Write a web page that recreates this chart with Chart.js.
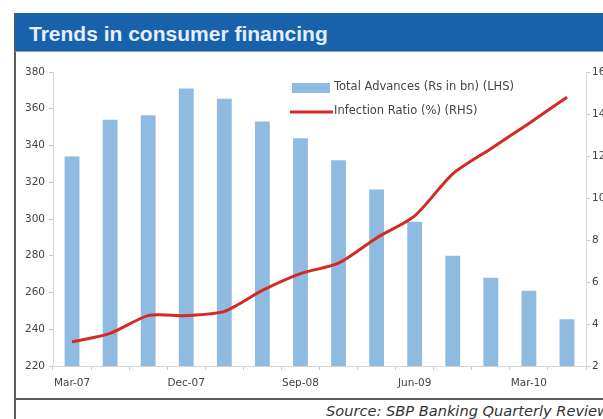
<!DOCTYPE html>
<html>
<head>
<meta charset="utf-8">
<title>Trends in consumer financing</title>
<script src="https://cdn.jsdelivr.net/npm/chart.js@4/dist/chart.umd.min.js"></script>
<style>
    html, body { margin: 0; padding: 0; background: #fff; }
    body { width: 603px; height: 419px; position: relative; overflow: hidden; font-family: "Liberation Sans", Arial, sans-serif; }
    #frame-left { position: absolute; left: 14px; top: 13px; width: 2px; height: 406px; background: #5a5a5a; }
    #title-bar { position: absolute; left: 15px; top: 13px; width: 588px; height: 38px; background: #1862ab; border-bottom: 1px solid #8a9bb0; }
    #title-bar span { position: absolute; left: 14px; top: 10px; line-height: 21px; color: #e4efff; font-weight: bold; font-size: 21px; white-space: nowrap; }
    #frame-bottom { position: absolute; left: 15px; top: 398px; width: 588px; height: 2px; background: #5a5a5a; }
    #source { position: absolute; left: 326px; top: 404px; line-height: 14px; font-family: "DejaVu Sans", sans-serif; font-size: 14.6px; font-style: italic; color: #333; white-space: nowrap; }
    #chart { position: absolute; left: 0; top: 0; }
</style>
</head>
<body>
<div id="frame-left"></div>
<div id="title-bar"><span>Trends in consumer financing</span></div>
<div id="frame-bottom"></div>
<div id="source">Source: SBP Banking Quarterly Review</div>
<canvas id="chart" width="603" height="419"></canvas>

<script>
const categories = ['Mar-07', 'Jun-07', 'Sep-07', 'Dec-07', 'Mar-08', 'Jun-08', 'Sep-08',
                    'Dec-08', 'Mar-09', 'Jun-09', 'Sep-09', 'Dec-09', 'Mar-10', 'Jun-10'];
const totalAdvances = [334, 354, 356.5, 371, 365.5, 353, 344, 332, 316, 298.5, 280, 268, 261, 245.5];
const infectionRatio = [3.15, 3.55, 4.4, 4.4, 4.6, 5.6, 6.4, 6.9, 8.1, 9.15, 11.15, 12.35, 13.55, 14.8];
const leftTicks = [220, 240, 260, 280, 300, 320, 340, 360, 380];
const rightTicks = [2, 4, 6, 8, 10, 12, 14, 16];

const barColor = '#8fbbe0';
const lineColor = '#d42a22';
const textColor = '#444';
const tickFont = { family: '"DejaVu Sans", sans-serif', size: 10.5 };

// legend sits inside the plot, so draw it by hand
const insideLegend = {
    id: 'insideLegend',
    afterDraw(chart) {
        const ctx = chart.ctx;
        ctx.save();
        ctx.font = '11.5px "DejaVu Sans", sans-serif';
        ctx.textBaseline = 'middle';
        chart.data.datasets.forEach((ds, i) => {
            const y = 88 + i * 24;
            if (ds.type === 'bar') {
                ctx.fillStyle = ds.backgroundColor;
                ctx.fillRect(292, y - 5, 38, 10);
            } else {
                ctx.strokeStyle = ds.borderColor;
                ctx.lineWidth = 3;
                ctx.beginPath();
                ctx.moveTo(290, y);
                ctx.lineTo(333, y);
                ctx.stroke();
            }
            ctx.fillStyle = textColor;
            ctx.fillText(ds.label, 334, y - 1);
        });
        ctx.restore();
    }
};

new Chart(document.getElementById('chart'), {
    data: {
        labels: categories,
        datasets: [{
            type: 'bar',
            label: 'Total Advances (Rs in bn) (LHS)',
            data: totalAdvances,
            backgroundColor: barColor,
            yAxisID: 'yLeft',
            barPercentage: 0.39,
            categoryPercentage: 1,
            order: 2
        }, {
            type: 'line',
            label: 'Infection Ratio (%) (RHS)',
            data: infectionRatio,
            borderColor: lineColor,
            borderWidth: 3,
            pointRadius: 0,
            tension: 0.25,
            yAxisID: 'yRight',
            order: 1
        }]
    },
    options: {
        responsive: false,
        animation: false,
        devicePixelRatio: 1,
        layout: { padding: { top: 72, left: 0, right: 0, bottom: 0 } },
        plugins: { legend: { display: false }, tooltip: { enabled: false } },
        scales: {
            x: {
                grid: { drawOnChartArea: false, tickLength: 4, color: '#c8c8c8', offset: true },
                border: { color: '#d4d4d4' },
                ticks: {
                    autoSkip: false,
                    maxRotation: 0,
                    padding: 7,
                    color: textColor,
                    font: tickFont,
                    callback: function (value, index) {
                        return index % 3 === 0 ? this.getLabelForValue(value) : '';
                    }
                },
                afterFit: (scale) => { scale.height = 53; }
            },
            yLeft: {
                position: 'left',
                min: 220,
                max: 380,
                afterBuildTicks: (scale) => { scale.ticks = leftTicks.map(v => ({ value: v })); },
                grid: { drawOnChartArea: false, tickLength: 4, color: '#c8c8c8' },
                border: { color: '#dcdcdc' },
                ticks: { padding: 4, color: textColor, font: tickFont },
                afterFit: (scale) => { scale.width = 53; }
            },
            yRight: {
                position: 'right',
                min: 2,
                max: 16,
                afterBuildTicks: (scale) => { scale.ticks = rightTicks.map(v => ({ value: v })); },
                grid: { drawOnChartArea: false, tickLength: 4, color: '#c8c8c8' },
                border: { color: '#dcdcdc' },
                ticks: { padding: 2, color: textColor, font: tickFont },
                afterFit: (scale) => { scale.width = 17; }
            }
        }
    },
    plugins: [insideLegend]
});
</script>
</body>
</html>
